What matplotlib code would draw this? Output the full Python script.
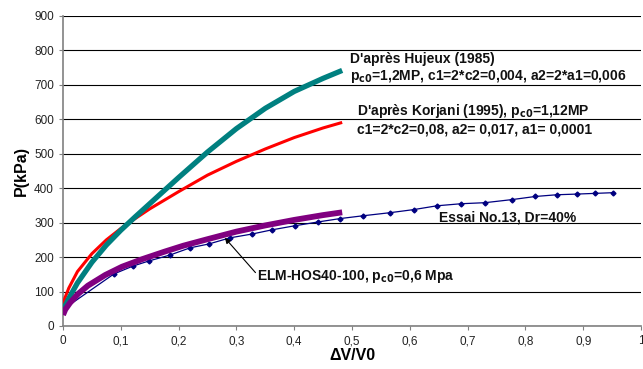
import matplotlib
matplotlib.use("Agg")
import numpy as np
import matplotlib.pyplot as plt

plt.rcParams['font.family'] = ['Liberation Sans', 'DejaVu Sans']

# Hujeux (1985) model curve
hujeux_x = [0, 0.01, 0.025, 0.05, 0.075, 0.1, 0.125, 0.15, 0.2, 0.25, 0.3, 0.35, 0.4, 0.45, 0.483]
hujeux_p = [47, 80, 125, 185, 235, 278, 317, 355, 431, 505, 573, 632, 681, 719, 742]

# Korjani (1995) model curve
korjani_x = [0, 0.003, 0.01, 0.025, 0.05, 0.075, 0.1, 0.125, 0.15, 0.2, 0.25, 0.3, 0.35, 0.4, 0.45, 0.483]
korjani_p = [55, 80, 110, 158, 210, 250, 283, 312, 340, 390, 438, 478, 514, 547, 575, 591]

# ELM-HOS40-100 curve
elm_x = [0, 0.004, 0.012, 0.026, 0.043, 0.073, 0.102, 0.137, 0.176, 0.208, 0.25,
         0.3, 0.35, 0.4, 0.45, 0.483]
elm_p = [32, 48, 67, 93, 117, 148, 172, 194, 216, 233, 252,
         274, 292, 308, 322, 330]

# Essai No.13 measurements
essai_x = [0, 0.088, 0.121, 0.149, 0.185, 0.22, 0.252, 0.289, 0.327, 0.361, 0.401, 0.441,
           0.48, 0.519, 0.566, 0.607, 0.647, 0.689, 0.73, 0.777, 0.817, 0.854, 0.889, 0.92, 0.951]
essai_p = [48, 151, 174, 189, 206, 227, 238, 256, 267, 279, 291, 302,
           312, 320, 329, 338, 349, 355, 358, 367, 376, 381, 383, 385, 387]

x_ticks = np.round(np.arange(0, 1.01, 0.1), 1)
x_labels = ["0"] + [f"{v:.1f}".replace(".", ",") for v in x_ticks[1:-1]] + ["1"]

fig = plt.figure(figsize=(6.43, 3.69), dpi=100)
ax = fig.add_axes([63 / 643, 43 / 369, 578 / 643, 310 / 369])

ax.plot(essai_x, essai_p, color="#000080", lw=0.9, marker="D", ms=2.5, zorder=3)
ax.plot(korjani_x, korjani_p, color="#ff0000", lw=2.2, zorder=4, solid_capstyle="butt")
ax.plot(hujeux_x, hujeux_p, color="#008080", lw=3.8, zorder=4, solid_capstyle="butt")
ax.plot(elm_x, elm_p, color="#800080", lw=4.2, zorder=4, solid_capstyle="butt")

ax.set_xlim(0, 1)
ax.set_ylim(0, 900)
ax.set_yticks(range(0, 901, 100))
ax.set_xticks(x_ticks)
ax.set_xticklabels(x_labels)
ax.grid(axis="y", color="black", lw=0.8)
ax.set_axisbelow(True)
for s in ["top", "right"]:
    ax.spines[s].set_visible(False)
for s in ["left", "bottom"]:
    ax.spines[s].set_color("#808080")
    ax.spines[s].set_linewidth(1.2)
ax.tick_params(direction="out", length=3, color="#808080", labelsize=8.5, labelcolor="#222222")

ax.set_xlabel("ΔV/V0", fontsize=11.5, fontweight="bold", labelpad=1)
ax.set_ylabel("P(kPa)", fontsize=11.5, fontweight="bold", labelpad=4)

kw = dict(fontsize=10, fontweight="bold", color="#111111", va="center")
ax.text(0.496, 776, "D'après Hujeux (1985)", **kw)
ax.text(0.496, 724, "p$_{\\mathbf{c0}}$=1,2MP, c1=2*c2=0,004, a2=2*a1=0,006", **kw)
ax.text(0.508, 623, "D'après Korjani (1995), p$_{\\mathbf{c0}}$=1,12MP", **kw)
ax.text(0.508, 570, "c1=2*c2=0,08, a2= 0,017, a1= 0,0001", **kw)
ax.text(0.65, 315, "Essai No.13, Dr=40%", **kw)
ax.text(0.336, 145, "ELM-HOS40-100, p$_{\\mathbf{c0}}$=0,6 Mpa", **kw)
ax.annotate("", xy=(0.28, 256), xytext=(0.333, 155),
            arrowprops=dict(arrowstyle="-|>", color="black", lw=0.8, mutation_scale=8,
                            shrinkA=0, shrinkB=0))

fig.savefig("out.png", dpi=100)
